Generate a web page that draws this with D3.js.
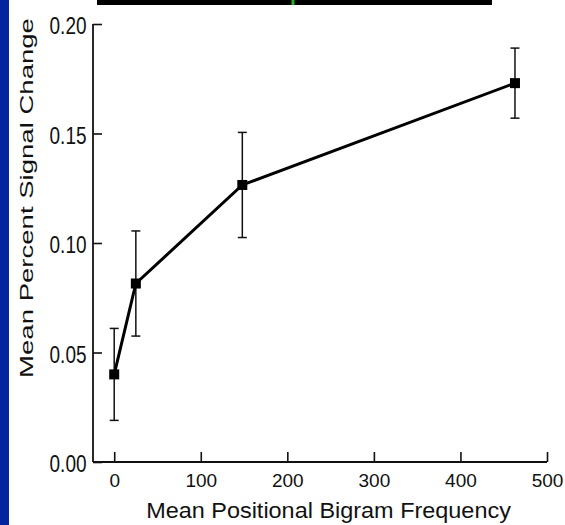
<!DOCTYPE html>
<html>
<head>
<meta charset="utf-8">
<script src="https://cdn.jsdelivr.net/npm/d3@7"></script>
<style>
  html, body { margin: 0; padding: 0; background: #fff; }
  svg { display: block; }
</style>
</head>
<body>
<div id="chart"></div>
<script>
// Bigram frequency vs. signal change
const frequency = [0, 25, 148, 463]
const signalChange = [0.040, 0.0815, 0.1265, 0.173]
const errorSize = [0.021, 0.024, 0.024, 0.016]
const xTicks = [0, 100, 200, 300, 400, 500]
const yTicks = [0.00, 0.05, 0.10, 0.15, 0.20]

const W = 565, H = 525
const FONT = "'Liberation Sans', Arial, Helvetica, sans-serif"
const INK = "#111"

const svg = d3.select("#chart").append("svg")
  .attr("width", W).attr("height", H)

svg.append("rect").attr("width", W).attr("height", H).attr("fill", "#fff")

// slide frame bits: blue strip left, black bar on top with green mark
svg.append("rect").attr("x", 0).attr("y", 0).attr("width", 9).attr("height", H).attr("fill", "#0324a0")
svg.append("rect").attr("x", 97).attr("y", 0).attr("width", 395).attr("height", 5).attr("fill", "#000")
svg.append("rect").attr("x", 291.5).attr("y", 0).attr("width", 3).attr("height", 5).attr("fill", "#22b02a")

const x = d3.scaleLinear().domain([-24.5, 500]).range([93, 547])
const y = d3.scaleLinear().domain([0, 0.20]).range([462, 24])

// axes
const xAxis = svg.append("g")
  .attr("transform", `translate(0,${y(0)})`)
  .call(d3.axisBottom(x).tickValues(xTicks).tickSize(-10).tickFormat(d3.format("d")))
const yAxis = svg.append("g")
  .attr("transform", `translate(${x.range()[0]},0)`)
  .call(d3.axisLeft(y).tickValues(yTicks).tickSize(-9).tickFormat(d3.format(".2f")))

;[xAxis, yAxis].forEach(ax => {
  ax.select(".domain").attr("stroke", INK).attr("stroke-width", 1.8)
  ax.selectAll(".tick line").attr("stroke", INK).attr("stroke-width", 1.6)
  ax.selectAll(".tick text")
    .attr("fill", INK)
    .attr("font-family", FONT)
    .attr("font-size", "19px")
})
// no outer ticks on the domain lines
xAxis.select(".domain").attr("d", `M${x.range()[0]},0H${x.range()[1]}`)
yAxis.select(".domain").attr("d", `M0,${y.range()[1]}V${y.range()[0]}`)

// y labels look taller than wide in the reference
yAxis.selectAll(".tick text")
  .attr("x", -6.5).attr("y", 0).attr("dy", "0.36em")
  .attr("transform", "translate(0,1) scale(1,1.3)")
xAxis.selectAll(".tick text").attr("y", 25).attr("dy", 0)

// axis titles, stretched to the length they have in the picture
function title(str, size, tx, ty, rot, len) {
  const t = svg.append("text")
    .attr("text-anchor", "middle")
    .attr("fill", INK)
    .attr("font-family", FONT)
    .attr("font-size", size + "px")
    .text(str)
  const k = len / t.node().getComputedTextLength()
  t.attr("transform", `translate(${tx},${ty}) rotate(${rot}) scale(${k},1)`)
  return t
}
title("Mean Positional Bigram Frequency", 22, 328.5, 518, 0, 365)
title("Mean Percent Signal Change", 19, 33, 198, -90, 360)

const points = frequency.map((f, i) => ({ f, v: signalChange[i], e: errorSize[i] }))

// error bars
const eb = svg.append("g").attr("stroke", INK).attr("stroke-width", 1.5)
points.forEach(p => {
  eb.append("line")
    .attr("x1", x(p.f)).attr("x2", x(p.f))
    .attr("y1", y(p.v - p.e)).attr("y2", y(p.v + p.e))
  ;[p.v - p.e, p.v + p.e].forEach(v => {
    eb.append("line")
      .attr("x1", x(p.f) - 4.5).attr("x2", x(p.f) + 4.5)
      .attr("y1", y(v)).attr("y2", y(v))
  })
})

// line
svg.append("path")
  .datum(points)
  .attr("fill", "none")
  .attr("stroke", "#000")
  .attr("stroke-width", 3)
  .attr("d", d3.line().x(d => x(d.f)).y(d => y(d.v)))

// square markers
svg.selectAll(".marker")
  .data(points)
  .join("rect")
  .attr("class", "marker")
  .attr("x", d => x(d.f) - 5)
  .attr("y", d => y(d.v) - 5)
  .attr("width", 10).attr("height", 10)
  .attr("fill", "#000")
</script>
</body>
</html>
